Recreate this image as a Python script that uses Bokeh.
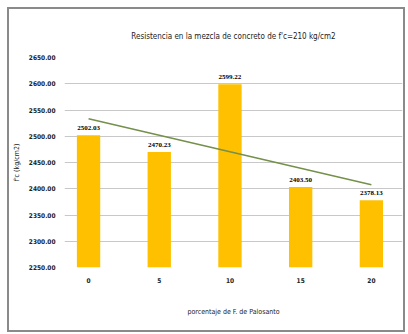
from bokeh.plotting import figure
from bokeh.models import ColumnDataSource, NumeralTickFormatter, FixedTicker, Range1d, LabelSet
from bokeh.embed import file_html
from bokeh.resources import INLINE
import numpy as np

categories = ["0", "5", "10", "15", "20"]
values = [2502.03, 2470.23, 2599.22, 2403.50, 2378.13]
value_labels = ["2502.03", "2470.23", "2599.22", "2403.50", "2378.13"]
y_ticks = [2250, 2300, 2350, 2400, 2450, 2500, 2550, 2600, 2650]

title_text = "Resistencia en la mezcla de concreto de f'c=210 kg/cm2"
x_label = "porcentaje de F. de Palosanto"
y_label = "f'c (kg/cm2)"

# category positions and Excel-style linear trendline (x = 1..n)
xpos = list(range(len(categories)))
xi = np.arange(1, len(values) + 1)
slope, intercept = np.polyfit(xi, values, 1)
trend = list(slope * xi + intercept)

src = ColumnDataSource(dict(x=xpos, val=values, lab=value_labels, trend=trend))

FONT = "DejaVu Sans Condensed"

p = figure(x_range=Range1d(-0.34, 4.44), y_range=Range1d(2250, 2650), width=398, height=325,
           output_backend="svg", toolbar_location=None, title=title_text,
           min_border_left=44, min_border_right=5, min_border_top=48, min_border_bottom=67)
p.margin = (7, 3, 2, 7)
p.title.align = "center"
p.title.text_font = FONT
p.title.text_font_size = "8px"
p.title.text_font_style = "normal"
p.title.text_color = "#222222"
p.title.standoff = 33

p.ygrid.grid_line_color = "#C8C8C8"
p.ygrid.grid_line_width = 1
p.ygrid.level = "underlay"

p.vbar(x="x", top="val", bottom=2250, width=0.33, source=src,
       fill_color="#FFC000", line_color=None)
p.line(x="x", y="trend", source=src, line_color="#74904A", line_width=1.5)

labels = LabelSet(x="x", y="val", text="lab", source=src, y_offset=5,
                  text_align="center", text_font_size="7px", text_font_style="bold",
                  text_font=FONT, text_color="#000000")
p.add_layout(labels)

ticker = FixedTicker(ticks=y_ticks)
p.yaxis.ticker = ticker
p.ygrid.ticker = ticker
p.yaxis.formatter = NumeralTickFormatter(format="0.00")
p.xaxis.ticker = FixedTicker(ticks=xpos)
p.xaxis.major_label_overrides = {i: c for i, c in zip(xpos, categories)}
p.yaxis.axis_label = y_label
p.xaxis.axis_label = x_label
for ax in (p.xaxis, p.yaxis):
    ax.axis_line_color = None
    ax.major_tick_line_color = None
    ax.minor_tick_line_color = None
    ax.major_label_text_font = FONT
    ax.major_label_text_font_size = "6.5px"
    ax.major_label_text_font_style = "bold"
    ax.major_label_text_color = "#222222"
    ax.axis_label_text_font = FONT
    ax.axis_label_text_font_size = "7px"
    ax.axis_label_text_font_style = "normal"
    ax.axis_label_text_color = "#222222"
p.yaxis.major_label_standoff = 3
p.yaxis.axis_label_standoff = 5
p.xaxis.major_label_standoff = 4
p.xaxis.axis_label_standoff = 22

p.xgrid.grid_line_color = None
p.outline_line_color = None
p.background_fill_color = "white"
p.border_fill_color = "white"
p.styles = {"border": "2px solid #8A8A8A", "box-sizing": "border-box"}

open("out.html", "w").write(file_html(p, INLINE))
